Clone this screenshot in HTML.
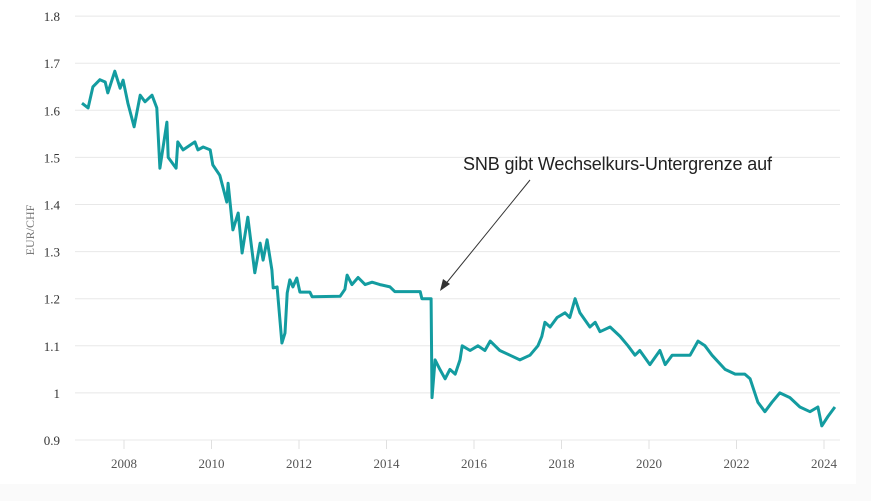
<!DOCTYPE html>
<html><head><meta charset="utf-8"><style>
body{margin:0;background:#fafafa;}
svg{display:block;font-family:"Liberation Serif",serif;}
</style></head><body>
<svg width="871" height="501">
<rect x="0" y="0" width="856" height="484" fill="#fff"/>
<g id="grid"></g><g id="yt"></g><g id="xt"></g>
<text transform="translate(34,230) rotate(-90)" text-anchor="middle" font-size="12" fill="#777">EUR/CHF</text>
<path id="line" fill="none" stroke="#139ca0" stroke-width="3" stroke-linejoin="round"/>
<line x1="530" y1="180" x2="444" y2="286" stroke="#333" stroke-width="1"/>
<polygon points="440,291 443,279 450,284" fill="#333"/>
<text x="463" y="170" font-family="Liberation Sans, sans-serif" font-size="18" textLength="309" fill="#222">SNB gibt Wechselkurs-Untergrenze auf</text>
</svg>
<script>
const years=[2007.04,2007.18,2007.29,2007.45,2007.57,2007.63,2007.79,2007.91,2007.98,2008.09,2008.23,2008.37,2008.48,2008.64,2008.75,2008.82,2008.98,2009.01,2009.19,2009.23,2009.35,2009.62,2009.69,2009.81,2009.97,2010.03,2010.19,2010.26,2010.35,2010.38,2010.49,2010.61,2010.70,2010.83,2010.99,2011.11,2011.18,2011.27,2011.38,2011.41,2011.50,2011.61,2011.68,2011.73,2011.79,2011.86,2011.95,2012.02,2012.25,2012.30,2012.94,2013.05,2013.10,2013.21,2013.35,2013.51,2013.67,2013.85,2014.08,2014.19,2014.77,2014.81,2015.02,2015.04,2015.11,2015.22,2015.34,2015.45,2015.57,2015.68,2015.73,2015.91,2016.09,2016.25,2016.37,2016.59,2016.82,2017.05,2017.28,2017.46,2017.55,2017.62,2017.74,2017.90,2018.08,2018.19,2018.31,2018.42,2018.65,2018.77,2018.88,2019.11,2019.34,2019.52,2019.68,2019.79,2020.02,2020.25,2020.37,2020.53,2020.94,2021.12,2021.28,2021.44,2021.74,2021.97,2022.19,2022.31,2022.49,2022.65,2022.81,2022.99,2023.22,2023.45,2023.68,2023.86,2023.95,2024.09,2024.25];
const rates=[1.615,1.605,1.65,1.665,1.66,1.637,1.683,1.647,1.664,1.615,1.565,1.632,1.618,1.632,1.605,1.477,1.575,1.50,1.477,1.533,1.516,1.533,1.516,1.522,1.516,1.484,1.462,1.437,1.405,1.445,1.346,1.382,1.297,1.373,1.255,1.318,1.282,1.325,1.261,1.223,1.225,1.106,1.127,1.212,1.24,1.225,1.244,1.214,1.214,1.204,1.205,1.22,1.25,1.23,1.245,1.23,1.235,1.23,1.225,1.215,1.215,1.20,1.20,0.99,1.07,1.05,1.03,1.05,1.04,1.07,1.10,1.09,1.10,1.09,1.11,1.09,1.08,1.07,1.08,1.10,1.12,1.15,1.14,1.16,1.17,1.16,1.20,1.17,1.14,1.15,1.13,1.14,1.12,1.10,1.08,1.09,1.06,1.09,1.06,1.08,1.08,1.11,1.10,1.08,1.05,1.04,1.04,1.03,0.98,0.96,0.98,1.00,0.99,0.97,0.96,0.97,0.93,0.95,0.97];
const yTicks=[0.9,1,1.1,1.2,1.3,1.4,1.5,1.6,1.7,1.8];
const yTickLabels=["0.9","1","1.1","1.2","1.3","1.4","1.5","1.6","1.7","1.8"];
const xTicks=[2008,2010,2012,2014,2016,2018,2020,2022,2024];
const NS="http://www.w3.org/2000/svg";
const X=y=>124+(y-2008)*43.75, Y=v=>440-(v-0.9)/0.1*47.1;
function mk(t,a,p){const e=document.createElementNS(NS,t);for(const k in a)e.setAttribute(k,a[k]);p.appendChild(e);return e;}
const g=document.getElementById('grid'),yt=document.getElementById('yt'),xt=document.getElementById('xt');
yTicks.forEach((v,i)=>{
 const l=mk('line',{x1:75,x2:840,y1:Y(v),y2:Y(v),stroke:'#e8e8e8','stroke-width':1},g);
 
 
 const t=mk('text',{x:60,y:Y(v)+5,'text-anchor':'end','font-size':13,fill:'#333'},yt);
 t.textContent=yTickLabels[i];
 
 
});
xTicks.forEach(yr=>{
 const l=mk('line',{x1:X(yr),x2:X(yr),y1:440,y2:449,stroke:'#e0e0e0'},xt);
 
 
 const t=mk('text',{x:X(yr),y:468,'text-anchor':'middle','font-size':13,fill:'#555'},xt);
 t.textContent=yr;
 
 
});
document.getElementById('line').setAttribute('d',years.map((y,i)=>(i?'L':'M')+X(y).toFixed(1)+','+Y(rates[i]).toFixed(1)).join(''));
</script>
</body></html>
